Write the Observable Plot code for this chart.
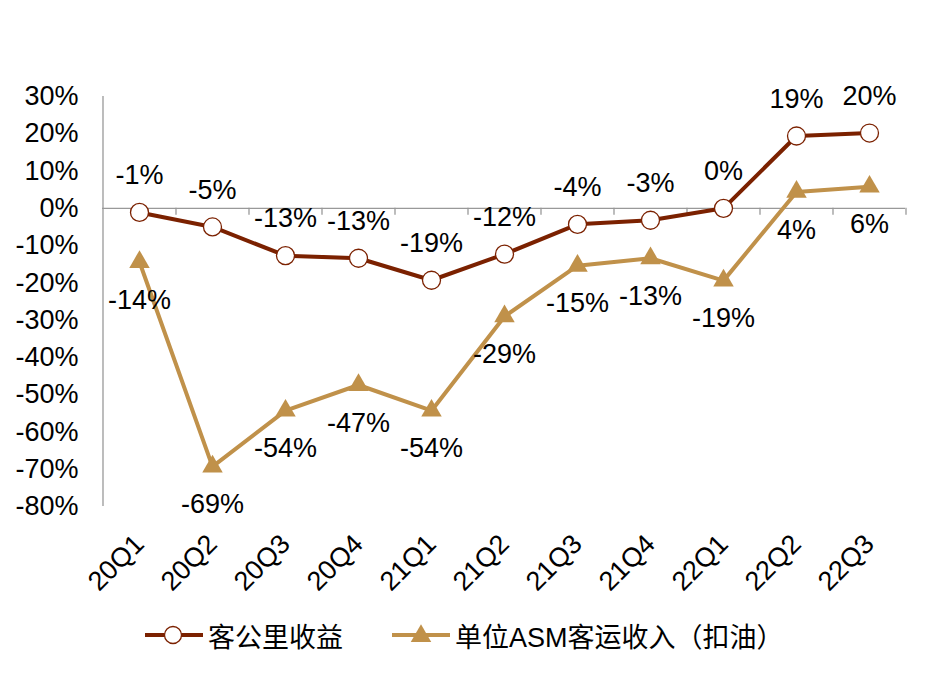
<!DOCTYPE html>
<html>
<head>
<meta charset="utf-8">
<script src="https://cdn.jsdelivr.net/npm/d3@7"></script>
<script src="https://cdn.jsdelivr.net/npm/@observablehq/plot@0.6"></script>
<style>
  body { margin: 0; background: #fff; }
  #chart svg { display: block; }
  .legend { height: 79px; position: relative; font-family: "Liberation Sans", Arial, "Noto Sans CJK SC", sans-serif; font-size: 27px; color: #000; }
  .item { position: absolute; top: 12px; display: flex; align-items: center; height: 36px; }
  .item svg { display: block; margin-right: 5px; }
</style>
</head>
<body>
<div id="chart"></div>
<div class="legend">
  <div class="item" id="leg1" style="left:145px"></div>
  <div class="item" id="leg2" style="left:392px"></div>
</div>
<script>
const quarters = ["20Q1","20Q2","20Q3","20Q4","21Q1","21Q2","21Q3","21Q4","22Q1","22Q2","22Q3"];
const rask = [-1.1, -5.0, -12.7, -13.4, -19.3, -12.3, -4.3, -3.2, 0.0, 19.4, 20.2];
const asmRev = [-14.4, -69.3, -54.3, -47.4, -54.3, -29.0, -15.4, -13.4, -19.4, 4.4, 5.8];
const yTicks = [-80, -70, -60, -50, -40, -30, -20, -10, 0, 10, 20, 30];
const seriesNames = ["客公里收益", "单位ASM客运收入（扣油）"];

const c1 = "#7B2100", c2 = "#C0914A";
const W = 927, ML = 102, MR = 22;
const half = (W - ML - MR) / quarters.length / 2;

const d1 = quarters.map((q, i) => ({q, v: rask[i]}));
const d2 = quarters.map((q, i) => ({q, v: asmRev[i]}));
const fmt = v => Math.round(v) + "%";
const font = "Liberation Sans, Arial, Noto Sans CJK SC, sans-serif";

const chart = Plot.plot({
  width: W, height: 605,
  marginLeft: ML, marginRight: MR, marginTop: 96, marginBottom: 99,
  style: {fontFamily: font, fontSize: "27px", color: "#000", background: "#fff"},
  x: {type: "point", domain: quarters, padding: 0.5, label: null},
  y: {domain: [-80, 30], label: null},
  marks: [
    Plot.axisY({ticks: yTicks, tickFormat: d => d + "%", tickSize: 0, tickPadding: 24, fontSize: 27, label: null}),
    Plot.axisX({tickRotate: -45, tickSize: 0, tickPadding: 33, fontSize: 27, label: null}),
    Plot.ruleX([quarters[0]], {dx: -half, y1: -80, y2: 30, stroke: "#999", strokeWidth: 1.3}),
    Plot.ruleY([0], {stroke: "#999", strokeWidth: 1.3}),
    Plot.ruleX(quarters, {x: d => d, dx: half, y1: 0, y2: 0, insetBottom: -7, stroke: "#999", strokeWidth: 1.3}),
    Plot.line(d2, {x: "q", y: "v", stroke: c2, strokeWidth: 4}),
    Plot.line(d1, {x: "q", y: "v", stroke: c1, strokeWidth: 4}),
    Plot.dot(d2, {x: "q", y: "v", symbol: "triangle", r: 7.6, fill: c2, stroke: "none"}),
    Plot.dot(d1, {x: "q", y: "v", r: 9, fill: "#fff", stroke: c1, strokeWidth: 1.3}),
    Plot.text(d1, {x: "q", y: "v", text: d => fmt(d.v), dy: -37, fontSize: 27, fill: "#000"}),
    Plot.text(d2, {x: "q", y: "v", text: d => fmt(d.v), dy: 38, fontSize: 27, fill: "#000"})
  ]
});
document.getElementById("chart").appendChild(chart);

function swatch(color, kind) {
  const ns = "http://www.w3.org/2000/svg";
  const s = document.createElementNS(ns, "svg");
  s.setAttribute("width", 58); s.setAttribute("height", 24);
  const l = document.createElementNS(ns, "line");
  l.setAttribute("x1", 0); l.setAttribute("x2", 58); l.setAttribute("y1", 12); l.setAttribute("y2", 12);
  l.setAttribute("stroke", color); l.setAttribute("stroke-width", 4);
  s.appendChild(l);
  if (kind === "circle") {
    const c = document.createElementNS(ns, "circle");
    c.setAttribute("cx", 28); c.setAttribute("cy", 12); c.setAttribute("r", 8.5);
    c.setAttribute("fill", "#fff"); c.setAttribute("stroke", color); c.setAttribute("stroke-width", 1.3);
    s.appendChild(c);
  } else {
    const p = document.createElementNS(ns, "path");
    p.setAttribute("d", d3.symbol(d3.symbolTriangle, Math.PI * 7.6 * 7.6)());
    p.setAttribute("transform", "translate(29,13)");
    p.setAttribute("fill", color);
    s.appendChild(p);
  }
  return s;
}
const leg1 = document.getElementById("leg1");
leg1.appendChild(swatch(c1, "circle"));
leg1.appendChild(Object.assign(document.createElement("span"), {textContent: seriesNames[0]}));
const leg2 = document.getElementById("leg2");
leg2.appendChild(swatch(c2, "triangle"));
leg2.appendChild(Object.assign(document.createElement("span"), {textContent: seriesNames[1]}));
</script>
</body>
</html>
